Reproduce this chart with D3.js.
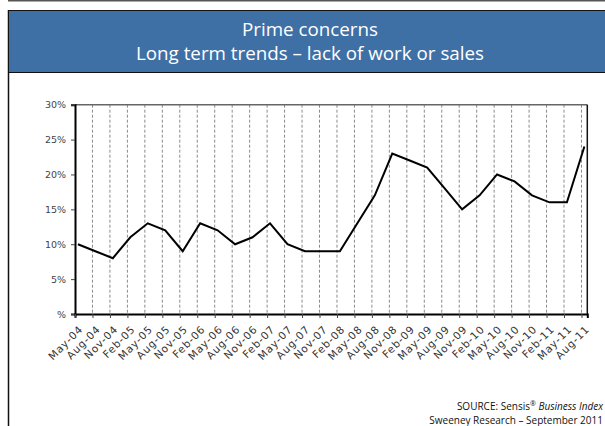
<!DOCTYPE html>
<html>
<head>
<meta charset="utf-8">
<script src="https://cdn.jsdelivr.net/npm/d3@7"></script>
<style>
  html, body { margin: 0; padding: 0; background: #fff; }
  svg { display: block; }
</style>
</head>
<body>
<svg id="chart" width="605" height="426"></svg>
<script>
// Quarterly survey readings, share of businesses citing lack of work or sales
const categories = ["May-04","Aug-04","Nov-04","Feb-05","May-05","Aug-05","Nov-05","Feb-06",
  "May-06","Aug-06","Nov-06","Feb-07","May-07","Aug-07","Nov-07","Feb-08","May-08","Aug-08",
  "Nov-08","Feb-09","May-09","Aug-09","Nov-09","Feb-10","May-10","Aug-10","Nov-10","Feb-11",
  "May-11","Aug-11"];
const values = [10, 9, 8, 11, 13, 12, 9, 13, 12, 10, 11, 13, 10, 9, 9, 9, 13, 17,
  23, 22, 21, 18, 15, 17, 20, 19, 17, 16, 16, 24];
const yTicks = [0, 5, 10, 15, 20, 25, 30];
const yTickLabels = ["%", "5%", "10%", "15%", "20%", "25%", "30%"];
const titleLines = ["Prime concerns", "Long term trends \u2013 lack of work or sales"];

const svg = d3.select("#chart");

// page frame
svg.append("line").attr("x1", 8).attr("x2", 605).attr("y1", 0.75).attr("y2", 0.75)
  .attr("stroke", "#555").attr("stroke-width", 1.5);
svg.append("line").attr("x1", 8.5).attr("x2", 8.5).attr("y1", 10).attr("y2", 426)
  .attr("stroke", "#111").attr("stroke-width", 1.5);

// title banner
svg.append("rect").attr("x", 8.5).attr("y", 10.5).attr("width", 600).attr("height", 62)
  .attr("fill", "#3e70a6").attr("stroke", "#111").attr("stroke-width", 1);
svg.append("g").selectAll("text").data(titleLines).join("text")
  .attr("x", 310).attr("y", (d, i) => 35.5 + i * 24)
  .attr("text-anchor", "middle")
  .attr("fill", "#fff")
  .attr("font-family", "'Open Sans', sans-serif")
  .attr("font-size", 18.8)
  .text(d => d);

// plot geometry: monthly time axis, one extra month of room at the end
const plotL = 75, plotR = 587.3, plotT = 104.7, plotB = 314;
const months = (categories.length - 1) * 3 + 1;
const x = d3.scaleLinear().domain([0, months]).range([plotL, plotR]);
const y = d3.scaleLinear().domain([0, 30]).range([plotB, plotT]);
const tickPos = categories.map((c, i) => i * 3);

// vertical dashed gridlines
svg.append("g").selectAll("line").data(tickPos.slice(1)).join("line")
  .attr("x1", d => x(d)).attr("x2", d => x(d))
  .attr("y1", plotT).attr("y2", plotB)
  .attr("stroke", "#8a8a8a").attr("stroke-width", 1)
  .attr("stroke-dasharray", "3,2");

// top and right plot borders
svg.append("line").attr("x1", plotL).attr("x2", plotR).attr("y1", plotT).attr("y2", plotT)
  .attr("stroke", "#666").attr("stroke-width", 1.5);
svg.append("line").attr("x1", plotR).attr("x2", plotR).attr("y1", plotT).attr("y2", plotB)
  .attr("stroke", "#111").attr("stroke-width", 1.5);

// y axis
const yAxis = d3.axisLeft(y).tickValues(yTicks)
  .tickFormat((d, i) => yTickLabels[i]).tickSize(4).tickPadding(5);
const gy = svg.append("g").attr("transform", `translate(${plotL},0)`).call(yAxis);
gy.select(".domain").attr("stroke", "#000").attr("stroke-width", 2);
gy.selectAll(".tick line").attr("stroke", "#444");
gy.selectAll(".tick text").attr("fill", "#444")
  .attr("font-family", "'DejaVu Sans', sans-serif").attr("font-size", 9.5);

// x axis
const xAxis = d3.axisBottom(x).tickValues(tickPos)
  .tickFormat((d, i) => categories[i]).tickSize(4);
const gx = svg.append("g").attr("transform", `translate(0,${plotB})`).call(xAxis);
gx.select(".domain").attr("stroke", "#000").attr("stroke-width", 2);
gx.selectAll(".tick line").attr("stroke", "#444");
gx.selectAll(".tick text")
  .attr("fill", "#333")
  .attr("font-family", "'DejaVu Sans', sans-serif").attr("font-size", 10.5)
  .attr("letter-spacing", 0.8)
  .attr("text-anchor", "end")
  .attr("dy", null).attr("y", null)
  .attr("transform", "translate(8,16) rotate(-45)");

// data line, each point centred in its month
const line = d3.line().x((d, i) => x(i * 3 + 0.5)).y(d => y(d));
svg.append("path").datum(values).attr("d", line)
  .attr("fill", "none").attr("stroke", "#000").attr("stroke-width", 2)
  .attr("stroke-linejoin", "miter");

// source note
const src = svg.append("text").attr("x", 603).attr("y", 409.5).attr("text-anchor", "end")
  .attr("font-family", "'Open Sans', sans-serif").attr("font-size", 10).attr("fill", "#111");
src.append("tspan").text("SOURCE: Sensis");
src.append("tspan").attr("font-size", 7).attr("dy", -4).text("\u00AE");
src.append("tspan").attr("dy", 4).text(" ");
src.append("tspan").attr("font-style", "italic").text("Business Index");
svg.append("text").attr("x", 603).attr("y", 424).attr("text-anchor", "end")
  .attr("font-family", "'Open Sans', sans-serif").attr("font-size", 10).attr("fill", "#111")
  .text("Sweeney Research \u2013 September 2011");
</script>
</body>
</html>
